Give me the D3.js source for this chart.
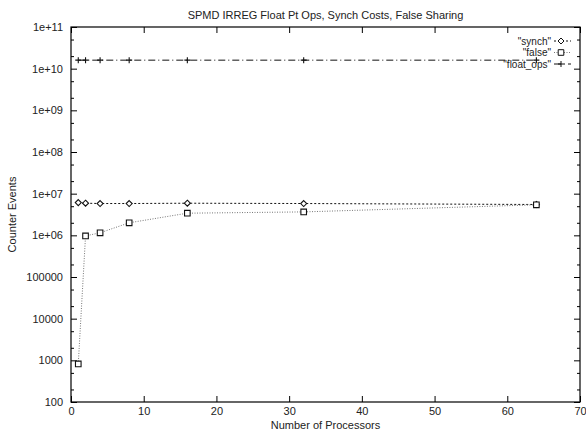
<!DOCTYPE html>
<html>
<head>
<meta charset="utf-8">
<script src="https://cdn.jsdelivr.net/npm/d3@7"></script>
<style>
  html, body { margin: 0; padding: 0; background: #fff; }
  svg { display: block; font-family: "Liberation Sans", Arial, sans-serif; }
  .axis path { display: none; }
  .axis line { stroke: #000; stroke-width: 1; }
  .axis text { font-size: 11px; fill: #222; font-family: "Liberation Sans", Arial, sans-serif; }
</style>
</head>
<body>
<div id="chart"></div>
<script>
// data
const procs = [1, 2, 4, 8, 16, 32, 64];
const synch = [6.1e6, 5.9e6, 5.8e6, 5.8e6, 5.9e6, 5.8e6, 5.5e6];
const falseSharing = [820, 0.97e6, 1.15e6, 2.0e6, 3.4e6, 3.65e6, 5.4e6];
const floatOps = [1.6e10, 1.6e10, 1.6e10, 1.6e10, 1.6e10, 1.6e10, 1.6e10];

const seriesNames = ["\"synch\"", "\"false\"", "\"float_ops\""];
const xTicks = [0, 10, 20, 30, 40, 50, 60, 70];
const yTicks = [100, 1e3, 1e4, 1e5, 1e6, 1e7, 1e8, 1e9, 1e10, 1e11];
const yTickLabels = ["100", "1000", "10000", "100000", "1e+06", "1e+07", "1e+08", "1e+09", "1e+10", "1e+11"];

const W = 586, H = 431;
const plot = { left: 71, right: 580, top: 27, bottom: 402 };

const svg = d3.select("#chart").append("svg")
  .attr("width", W)
  .attr("height", H);

svg.append("rect").attr("width", W).attr("height", H).attr("fill", "#fff");

const x = d3.scaleLinear().domain([0, 70]).range([plot.left, plot.right]);
const y = d3.scaleLog().domain([100, 1e11]).range([plot.bottom, plot.top]);

// minor log ticks at 2x and 5x of each decade
const yMinor = [];
yTicks.slice(0, -1).forEach(v => { yMinor.push(v * 2, v * 5); });

const yLabel = v => yTickLabels[yTicks.indexOf(v)];

// axes (ticks point inward, mirrored on top/right like gnuplot)
svg.append("g").attr("class", "axis")
  .attr("transform", `translate(${plot.left},0)`)
  .call(d3.axisLeft(y).tickValues(yTicks).tickFormat(yLabel).tickSizeInner(-6).tickSizeOuter(0).tickPadding(8));
svg.append("g").attr("class", "axis")
  .attr("transform", `translate(${plot.left},0)`)
  .call(d3.axisLeft(y).tickValues(yMinor).tickFormat("").tickSizeInner(-3).tickSizeOuter(0));
svg.append("g").attr("class", "axis")
  .attr("transform", `translate(${plot.right},0)`)
  .call(d3.axisRight(y).tickValues(yTicks).tickFormat("").tickSizeInner(-6).tickSizeOuter(0));
svg.append("g").attr("class", "axis")
  .attr("transform", `translate(${plot.right},0)`)
  .call(d3.axisRight(y).tickValues(yMinor).tickFormat("").tickSizeInner(-3).tickSizeOuter(0));

svg.append("g").attr("class", "axis")
  .attr("transform", `translate(0,${plot.bottom})`)
  .call(d3.axisBottom(x).tickValues(xTicks).tickFormat(d3.format("d")).tickSizeInner(-6).tickSizeOuter(0).tickPadding(5));
svg.append("g").attr("class", "axis")
  .attr("transform", `translate(0,${plot.top})`)
  .call(d3.axisTop(x).tickValues(xTicks).tickFormat("").tickSizeInner(-6).tickSizeOuter(0));

// frame
svg.append("rect")
  .attr("x", plot.left).attr("y", plot.top)
  .attr("width", plot.right - plot.left).attr("height", plot.bottom - plot.top)
  .attr("fill", "none").attr("stroke", "#000").attr("stroke-width", 1.2);

// series
const series = [
  { name: seriesNames[0], values: synch, stroke: "#111", dash: "2,2", marker: "diamond" },
  { name: seriesNames[1], values: falseSharing, stroke: "#777", dash: "1,1.5", marker: "square" },
  { name: seriesNames[2], values: floatOps, stroke: "#111", dash: "7,3,1,3", marker: "plus" }
];

const markerPath = {
  diamond: s => `M0,${-s}L${s},0L0,${s}L${-s},0Z`,
  square: s => `M${-s},${-s}H${s}V${s}H${-s}Z`,
  plus: s => `M${-s},0H${s}M0,${-s}V${s}`
};
const markerSize = { diamond: 3, square: 2.8, plus: 3 };

const line = d3.line().x(d => x(d[0])).y(d => y(d[1]));

series.forEach(s => {
  const pts = procs.map((p, i) => [p, s.values[i]]);
  svg.append("path")
    .attr("d", line(pts))
    .attr("fill", "none")
    .attr("stroke", s.stroke)
    .attr("stroke-width", 1)
    .attr("stroke-dasharray", s.dash);
  svg.selectAll(null)
    .data(pts)
    .enter()
    .append("path")
    .attr("transform", d => `translate(${x(d[0])},${y(d[1])})`)
    .attr("d", markerPath[s.marker](markerSize[s.marker]))
    .attr("fill", s.marker === "plus" ? "none" : "#fff")
    .attr("stroke", "#111")
    .attr("stroke-width", 1.1);
});

// legend (top right, gnuplot style)
const legend = svg.append("g");
series.forEach((s, i) => {
  const ly = 41 + i * 11.5;
  legend.append("text")
    .attr("x", 551).attr("y", ly + 3.5)
    .attr("text-anchor", "end")
    .attr("font-size", "10px").attr("fill", "#222")
    .text(s.name);
  legend.append("line")
    .attr("x1", 554).attr("x2", 571).attr("y1", ly).attr("y2", ly)
    .attr("stroke", s.stroke).attr("stroke-dasharray", s.dash);
  legend.append("path")
    .attr("transform", `translate(561,${ly})`)
    .attr("d", markerPath[s.marker](markerSize[s.marker]))
    .attr("fill", s.marker === "plus" ? "none" : "#fff")
    .attr("stroke", "#111");
});

// titles
svg.append("text")
  .attr("x", (plot.left + plot.right) / 2).attr("y", 19)
  .attr("text-anchor", "middle").attr("font-size", "11px").attr("fill", "#222")
  .text("SPMD IRREG Float Pt Ops, Synch Costs, False Sharing");

svg.append("text")
  .attr("x", (plot.left + plot.right) / 2).attr("y", 429)
  .attr("text-anchor", "middle").attr("font-size", "11px").attr("fill", "#222")
  .text("Number of Processors");

svg.append("text")
  .attr("transform", `translate(16,${(plot.top + plot.bottom) / 2}) rotate(-90)`)
  .attr("text-anchor", "middle").attr("font-size", "11px").attr("fill", "#222")
  .text("Counter Events");
</script>
</body>
</html>
